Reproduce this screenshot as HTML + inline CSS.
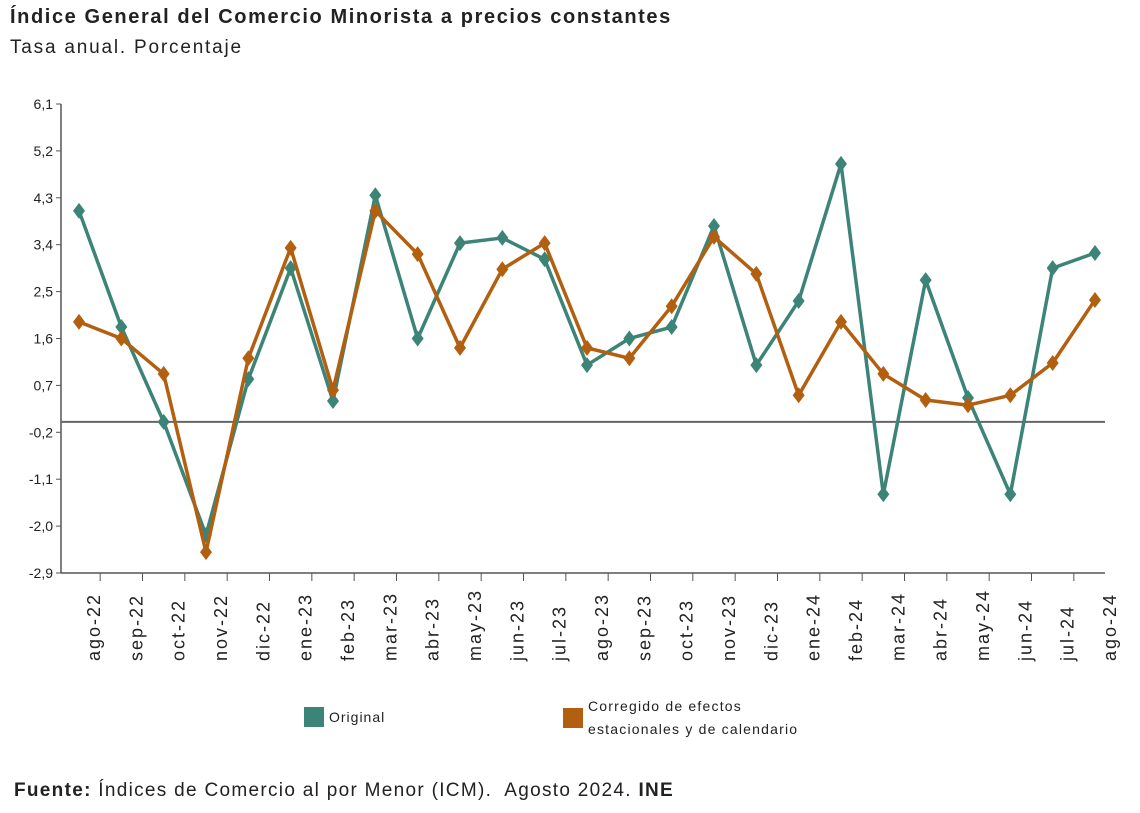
<!DOCTYPE html>
<html><head><meta charset="utf-8"><style>
body{margin:0;background:#fff;font-family:"Liberation Sans",sans-serif;}
#wrap{position:relative;width:1140px;height:813px;overflow:hidden;}
.t{position:absolute;white-space:nowrap;color:#222;}
</style></head><body><div id="wrap">
<div class="t" style="left:10px;top:6px;font-size:20px;font-weight:bold;letter-spacing:1.6px;">Índice General del Comercio Minorista a precios constantes</div>
<div class="t" style="left:10px;top:37px;font-size:19px;letter-spacing:1.8px;">Tasa anual. Porcentaje</div>
<svg id="chart" width="1140" height="813" style="position:absolute;left:0;top:0"></svg>
<div class="t" style="left:14px;top:780px;font-size:19px;letter-spacing:1.3px;"><b>Fuente:</b> Índices de Comercio al por Menor (ICM).&nbsp; Agosto 2024. <b>INE</b></div>
</div>
<script>
const categories=["ago-22","sep-22","oct-22","nov-22","dic-22","ene-23","feb-23","mar-23","abr-23","may-23","jun-23","jul-23","ago-23","sep-23","oct-23","nov-23","dic-23","ene-24","feb-24","mar-24","abr-24","may-24","jun-24","jul-24","ago-24"];
const original=[4.05,1.82,0.0,-2.17,0.82,2.95,0.4,4.35,1.6,3.43,3.53,3.12,1.09,1.6,1.82,3.76,1.09,2.32,4.95,-1.39,2.72,0.46,-1.39,2.95,3.24];
const corregido=[1.92,1.6,0.92,-2.5,1.22,3.34,0.61,4.05,3.22,1.42,2.93,3.43,1.42,1.22,2.22,3.55,2.84,0.51,1.92,0.92,0.42,0.32,0.51,1.13,2.34];
const yTicks=[6.1,5.2,4.3,3.4,2.5,1.6,0.7,-0.2,-1.1,-2.0,-2.9];
const ns="http://www.w3.org/2000/svg";
const svg=document.getElementById('chart');
const x0=61,x1=1105,yTop=104,yBot=573,vMax=6.1,vMin=-2.9;
const pFirst=79,pLast=1095;
const step=(pLast-pFirst)/(categories.length-1);
function xs(i){return pFirst+step*i;}
function ys(v){return yTop+(vMax-v)/(vMax-vMin)*(yBot-yTop);}
function mk(tag,a){const e=document.createElementNS(ns,tag);for(const k in a)e.setAttribute(k,a[k]);svg.appendChild(e);return e;}
let e;
e=mk('line',{x1:x0,y1:yTop,x2:x0,y2:yBot,stroke:'#555','stroke-width':1.5});


e=mk('line',{x1:x0,y1:yBot,x2:x1,y2:yBot,stroke:'#555','stroke-width':1.5});


e=mk('line',{x1:x0,y1:ys(0),x2:x1,y2:ys(0),stroke:'#666','stroke-width':2});


yTicks.forEach(v=>{
 const y=ys(v);
 e=mk('line',{x1:x0-5,y1:y,x2:x0,y2:y,stroke:'#555'});
 
 
 e=mk('text',{x:x0-8,y:y+5,'text-anchor':'end','font-size':14,fill:'#222'});
 e.textContent=v.toFixed(1).replace('.',',');
 
 
});
categories.forEach((c,i)=>{
 const xb=xs(i)+step/2;
 if(i<categories.length-1){
 e=mk('line',{x1:xb,y1:yBot,x2:xb,y2:yBot+8,stroke:'#555'});
 
 
 }
 const x=xs(i)+21,y=yBot+88;
 e=mk('text',{x:x,y:y,transform:`rotate(-90 ${x} ${y})`,'font-size':18,'letter-spacing':'2px',fill:'#222'});
 e.textContent=c;
 
 
});
function series(vals,col,name){
 e=mk('polyline',{points:vals.map((v,i)=>xs(i)+','+ys(v)).join(' '),fill:'none',stroke:col,'stroke-width':3.5,'stroke-linejoin':'round'});
 
 
 vals.forEach((v,i)=>{
  const x=xs(i),y=ys(v);
  e=mk('polygon',{points:`${x},${y-8} ${x+6},${y} ${x},${y+8} ${x-6},${y}`,fill:col});
  
  
 });
}
series(original,'#3d8478','original');
series(corregido,'#b35f10','corregido');
e=mk('rect',{x:304,y:707,width:20,height:20,fill:'#3d8478'});


e=mk('text',{x:329,y:722,'font-size':14,'letter-spacing':'1px',fill:'#222'});e.textContent='Original';


e=mk('rect',{x:563,y:708,width:20,height:20,fill:'#b35f10'});


e=mk('text',{x:588,y:711,'font-size':14,'letter-spacing':'1.2px',fill:'#222'});e.textContent='Corregido de efectos';


e=mk('text',{x:588,y:734,'font-size':14,'letter-spacing':'1.2px',fill:'#222'});e.textContent='estacionales y de calendario';


</script></body></html>
